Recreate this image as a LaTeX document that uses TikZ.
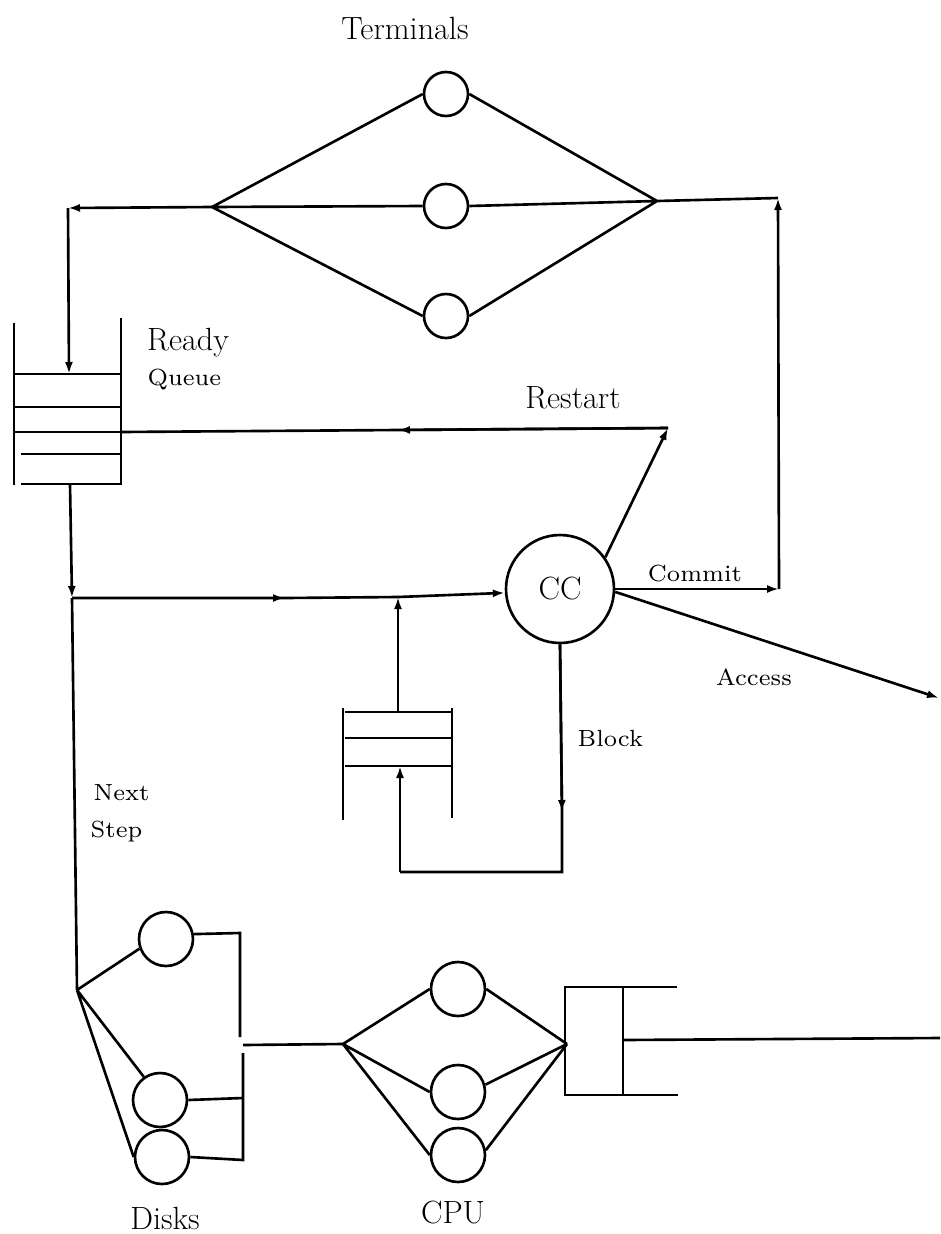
\documentclass[tikz,border=0pt]{standalone}
\usepackage{tikz}
\usetikzlibrary{arrows.meta,positioning,calc}

\begin{document}
\begin{tikzpicture}[x=0.02cm,y=-0.02cm,line width=1.5pt,
  >={Latex[length=2.4mm,width=1.6mm]},
  srv/.style={draw,circle,inner sep=0pt,minimum size=#1},
  big/.style={font=\fontsize{18.3}{21}\selectfont},
  lab/.style={font=\fontsize{7}{8}\selectfont,scale=1.9,transform shape}]
  \useasboundingbox (0,0) rectangle (940,1234);

  \node[big] (term) at (405,28) {Terminals};
  \foreach \n/\y in {1/94,2/206,3/316} \node[srv=8.8mm] (t\n) at (446,\y) {};
  \coordinate (tin) at (212,207);
  \coordinate (tout) at (657,201);
  \coordinate (tl) at (68,208);
  \coordinate (tr) at (778,198);
  \draw (t1.west) -- (tin) -- (t3.west) (tin) -- (t2.west);
  \draw (t1.east) -- (tout) -- (t3.east) (t2.east) -- (tout) -- (tr);
  \draw[->] (tin) -- (tl);

  \draw (14,323) -- (14,485) (121,318) -- (121,485);
  \foreach \y/\a in {374/14,407/14,432/14,454/21,484/21} \draw (\a,\y) -- (121,\y);
  \coordinate (rqin) at (69,374);
  \coordinate (rqout) at (70,484);
  \coordinate (rqr) at (121,432);
  \draw[->] (tl) -- (rqin);
  \node[big,anchor=west] (rdy) at (140,343) {Ready};
  \node[lab,anchor=west] (que) at (134,380) {Queue};

  \node[srv=21.6mm,big] (cc) at (560,589) {CC};
  \coordinate (rs) at (668,428);
  \coordinate (rsm) at (398,430);
  \draw[->] (cc.35) -- (rs);
  \draw (rs) -- (rsm) -- (rqr);
  \draw[->] (rs) -- (rsm);
  \node[big] (rst) at (573,398) {Restart};

  \coordinate (cm) at (779,589);
  \draw[->] (cc.east) -- (cm);
  \draw[->] (cm) -- (tr);
  \node[lab] (cmt) at (695,574) {Commit};
  \coordinate (acc) at (939,698);
  \draw[->] (cc.-3) -- (acc);
  \node[lab] (acs) at (754,677) {Access};

  \coordinate (nq) at (72,598);
  \coordinate (m1) at (285,598);
  \coordinate (m2) at (398,597);
  \draw (nq) -- (m1) -- (m2);
  \draw[->] (rqout) -- (nq);
  \draw[->] (nq) -- (m1);
  \draw[->] (m2) -- (cc.184);

  \draw (343,708) -- (343,820) (452,708) -- (452,818);
  \foreach \y in {712,738,766} \draw (345,\y) -- (452,\y);
  \coordinate (sqtop) at (398,712);
  \coordinate (sqbot) at (400,766);
  \draw[->] (sqtop) -- (m2);
  \coordinate (b1) at (562,812);
  \coordinate (b2) at (562,872);
  \coordinate (b3) at (400,872);
  \draw (cc.south) -- (b1) -- (b2) -- (b3);
  \draw[->] (cc.south) -- (b1);
  \draw[->] (b3) -- (sqbot);
  \node[lab,anchor=west] (blk) at (564,738) {Block};

  \coordinate (dk) at (77,990);
  \draw (nq) -- (dk);
  \node[lab,anchor=west] (nxt) at (80,793) {Next};
  \node[lab,anchor=west] (stp) at (77,832) {Step};

  \node[srv=10.8mm] (d1) at (166,939) {};
  \node[srv=10.8mm] (d2) at (160,1100) {};
  \node[srv=10.8mm] (d3) at (162,1157) {};
  \draw (dk) -- (d1.200) (dk) -- (d2.125) (dk) -- (d3.west);
  \coordinate (ja) at (240,933);
  \coordinate (jb) at (240,1037);
  \coordinate (jc) at (243,1053);
  \coordinate (jd) at (243,1098);
  \coordinate (je) at (243,1160);
  \coordinate (dout) at (243,1045);
  \coordinate (cf) at (343,1044);
  \draw (d1.10) -- (ja) -- (jb);
  \draw (d2.east) -- (jd);
  \draw (d3.east) -- (je) -- (jc);
  \draw (dout) -- (cf);
  \node[big] (dsk) at (165,1218) {Disks};

  \foreach \n/\y in {1/989,2/1092,3/1155} \node[srv=10.8mm] (c\n) at (458,\y) {};
  \coordinate (cj) at (567,1044);
  \draw (cf) -- (c1.west) (cf) -- (c2.west) (cf) -- (c3.west);
  \draw (c1.east) -- (cj) (c2.15) -- (cj) (c3.10) -- (cj);
  \draw (677,987) -- (565,987) -- (565,1095) -- (678,1095);
  \draw (623,987) -- (623,1095);
  \coordinate (bx) at (623,1040);
  \coordinate (bo) at (940,1038);
  \draw (bx) -- (bo);
  \node[big] (cpu) at (453,1213) {CPU};
\end{tikzpicture}
\end{document}
